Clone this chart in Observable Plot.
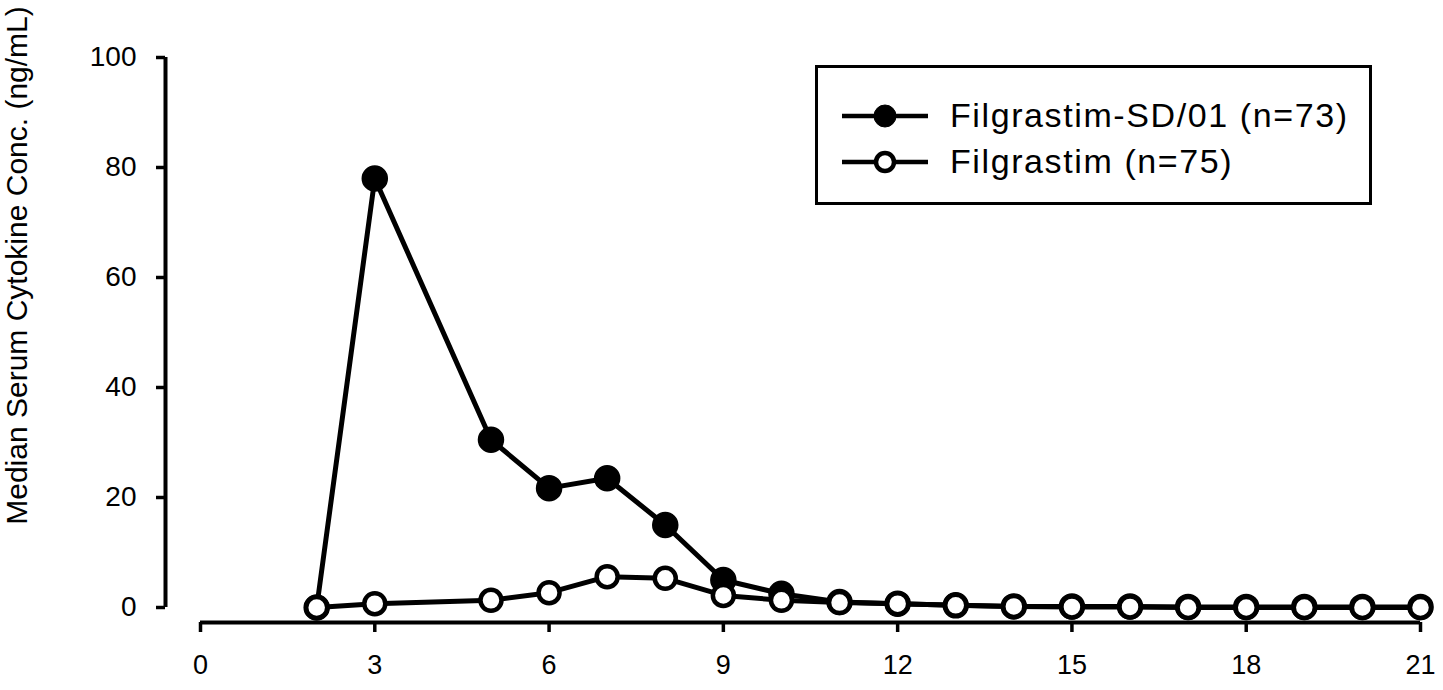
<!DOCTYPE html>
<html>
<head>
<meta charset="utf-8">
<script src="https://cdn.jsdelivr.net/npm/d3@7"></script>
<script src="https://cdn.jsdelivr.net/npm/@observablehq/plot@0.6"></script>
<style>
  html, body { margin: 0; padding: 0; background: #fff; }
  #wrap { position: relative; width: 1443px; height: 690px; font-family: "Liberation Sans", Arial, sans-serif; }
  #legend { position: absolute; left: 815px; top: 65px; width: 551px; height: 134px; border: 3px solid #000; background: #fff; }
  .row { position: absolute; left: 22px; display: flex; align-items: center; font-size: 34px; letter-spacing: 1.6px; color: #000; }
  .row svg { margin-right: 20px; }
</style>
</head>
<body>
<div id="wrap"></div>
<script>
// ---- data ----
const days = [2, 3, 5, 6, 7, 8, 9, 10, 11, 12, 13, 14, 15, 16, 17, 18, 19, 20, 21];
const sd01Values = [0, 78, 30.5, 21.7, 23.5, 15, 5, 2.5, 1, 0.7, 0.4, 0.2, 0.2, 0.2, 0.1, 0.1, 0.1, 0.1, 0.1];
const filgrastimValues = [0, 0.7, 1.3, 2.7, 5.6, 5.3, 2.2, 1.3, 0.9, 0.7, 0.4, 0.2, 0.1, 0.1, 0, 0, 0, 0, 0];
const seriesNames = ["Filgrastim-SD/01 (n=73)", "Filgrastim (n=75)"];
const xTicks = [0, 3, 6, 9, 12, 15, 18, 21];
const yTicks = [0, 20, 40, 60, 80, 100];
const yTitle = "Median Serum Cytokine Conc. (ng/mL)";

const sd01 = days.map((d, i) => ({day: d, value: sd01Values[i], series: seriesNames[0]}));
const filg = days.map((d, i) => ({day: d, value: filgrastimValues[i], series: seriesNames[1]}));

const chart = Plot.plot({
  width: 1443,
  height: 690,
  marginLeft: 200,
  marginRight: 23,
  marginTop: 57,
  marginBottom: 83,
  style: {fontFamily: "'Liberation Sans', Arial, sans-serif", background: "#fff", color: "#000"},
  x: {domain: [0, 21]},
  y: {domain: [0, 100]},
  marks: [
    // detached y axis
    Plot.ruleX([0], {y1: 0, y2: 100, dx: -35, strokeWidth: 4, stroke: "#000"}),
    Plot.axisY({ticks: yTicks, tickSize: 9, dx: -35, tickPadding: 20, fontSize: 28, label: null, strokeWidth: 3.5}),
    // detached x axis
    Plot.ruleY([0], {x1: 0, x2: 21, dy: 15, strokeWidth: 4, stroke: "#000"}),
    Plot.axisX({ticks: xTicks, tickSize: 10, dy: 15, tickPadding: 22, fontSize: 27, label: null, strokeWidth: 3.5}),
    // y title
    Plot.text([yTitle], {text: d => d, frameAnchor: "left", rotate: -90, dx: -183, dy: -67, fontSize: 30, textAnchor: "middle", fill: "#000"}),
    // series
    Plot.line(sd01, {x: "day", y: "value", stroke: "#000", strokeWidth: 5}),
    Plot.dot(sd01, {x: "day", y: "value", r: 12.5, fill: "#000", stroke: "#000"}),
    Plot.line(filg, {x: "day", y: "value", stroke: "#000", strokeWidth: 5}),
    Plot.dot(filg, {x: "day", y: "value", r: 10.5, fill: "#fff", stroke: "#000", strokeWidth: 4.5})
  ]
});

const wrap = document.getElementById("wrap");
wrap.appendChild(chart);

// legend
const legend = document.createElement("div");
legend.id = "legend";
const sample = (filled) => `<svg width="90" height="30" viewBox="0 0 90 30"><line x1="2" y1="15" x2="88" y2="15" stroke="#000" stroke-width="4.5"/><circle cx="45" cy="15" r="${filled ? 11 : 9}" fill="${filled ? "#000" : "#fff"}" stroke="#000" stroke-width="${filled ? 1 : 4.5}"/></svg>`;
legend.innerHTML =
  `<div class="row" style="top:28px">${sample(true)}<span>${seriesNames[0]}</span></div>` +
  `<div class="row" style="top:74px">${sample(false)}<span>${seriesNames[1]}</span></div>`;
wrap.appendChild(legend);
</script>
</body>
</html>
